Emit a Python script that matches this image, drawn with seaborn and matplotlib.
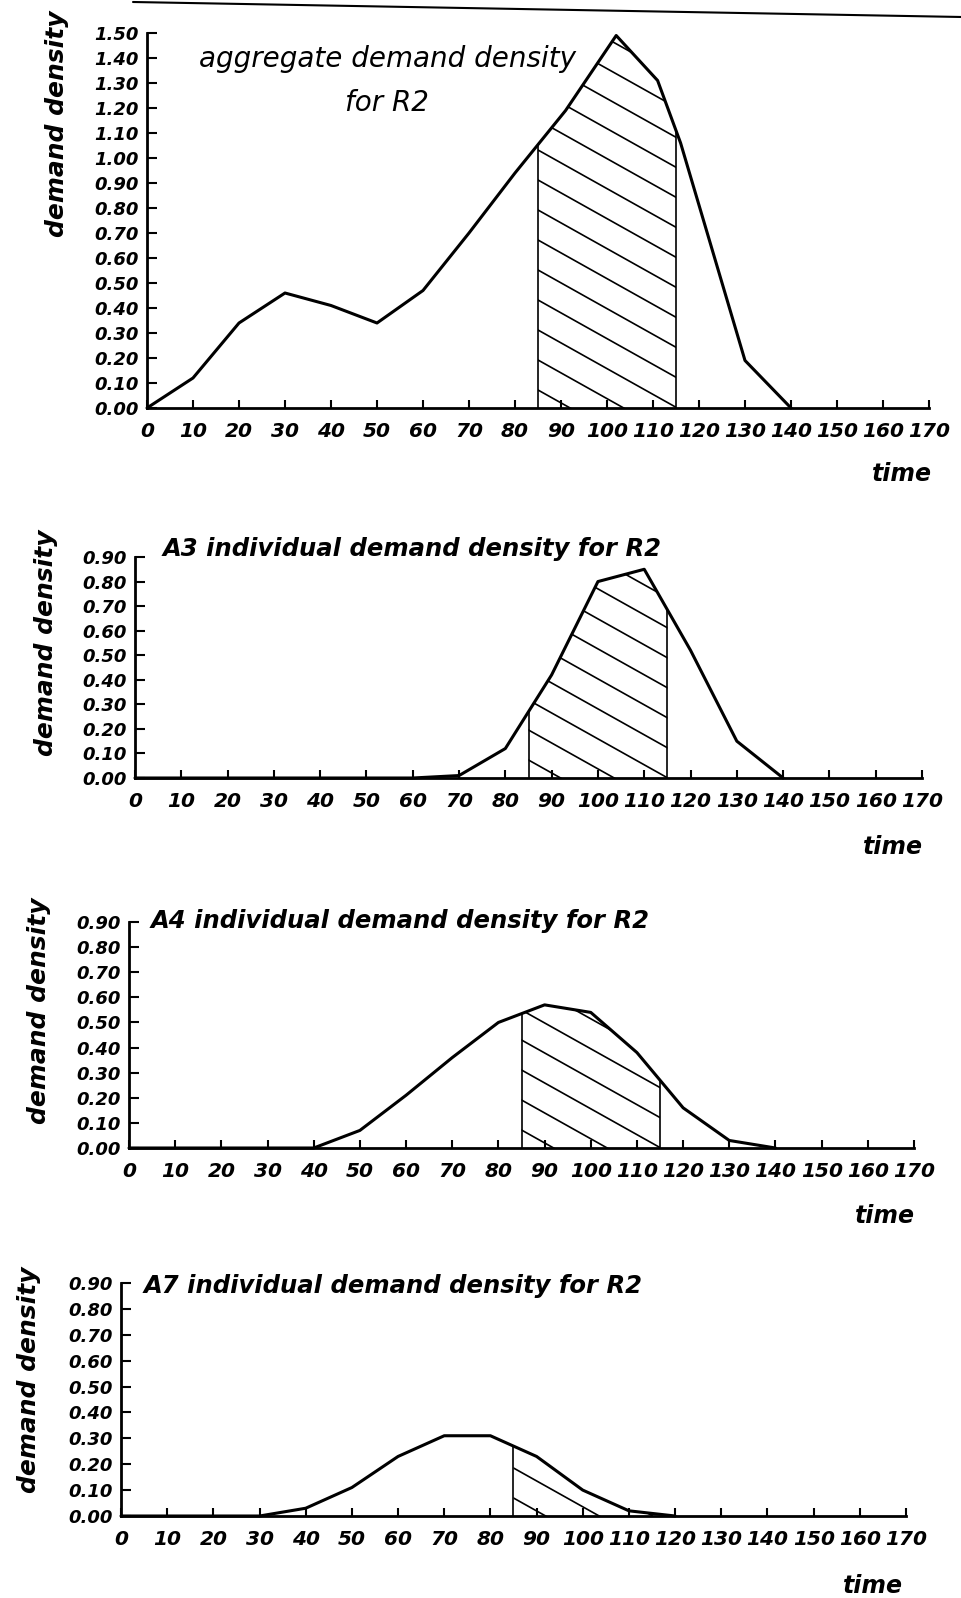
import numpy as np
import matplotlib.pyplot as plt
import seaborn as sns
from matplotlib.lines import Line2D

sns.set_style('ticks')
plt.rcParams['font.family'] = ['DejaVu Sans']
plt.rcParams.update({'text.color': 'black', 'axes.labelcolor': 'black',
                     'xtick.color': 'black', 'ytick.color': 'black',
                     'axes.edgecolor': 'black'})

# data
time_agg = [0, 10, 20, 30, 40, 50, 60, 70, 80, 91, 102, 111, 116, 130, 140]
dens_agg = [0.00, 0.12, 0.34, 0.46, 0.41, 0.34, 0.47, 0.70, 0.94, 1.19, 1.49, 1.31, 1.06, 0.19, 0.00]

time_ind = [0, 10, 20, 30, 40, 50, 60, 70, 80, 90, 100, 110, 120, 130, 140]
dens_a3 = [0, 0, 0, 0, 0, 0, 0, 0.01, 0.12, 0.42, 0.80, 0.85, 0.52, 0.15, 0.00]
dens_a4 = [0, 0, 0, 0, 0, 0.07, 0.21, 0.36, 0.50, 0.57, 0.54, 0.38, 0.16, 0.03, 0.00]

time_a7 = [0, 10, 20, 30, 40, 50, 60, 70, 80, 90, 100, 110, 120]
dens_a7 = [0, 0, 0, 0, 0.03, 0.11, 0.23, 0.31, 0.31, 0.23, 0.10, 0.02, 0.00]

window = (85, 115)   # shaded time window
x_ticks = [0, 10, 20, 30, 40, 50, 60, 70, 80, 90, 100, 110, 120, 130, 140, 150, 160, 170]
y_ticks_agg = [0.0, 0.1, 0.2, 0.3, 0.4, 0.5, 0.6, 0.7, 0.8, 0.9, 1.0, 1.1, 1.2, 1.3, 1.4, 1.5]
y_ticks_ind = [0.0, 0.1, 0.2, 0.3, 0.4, 0.5, 0.6, 0.7, 0.8, 0.9]

FIG_W, FIG_H = 962, 1598
fig = plt.figure(figsize=(FIG_W / 100, FIG_H / 100), dpi=100)


def px_axes(left, right, top, bottom):
    return fig.add_axes([left / FIG_W, 1 - bottom / FIG_H,
                         (right - left) / FIG_W, (bottom - top) / FIG_H])


def add_hatch(ax, t, v, lo, hi, gap_px=30, slope_px=0.56):
    xs = np.linspace(lo, hi, 300)
    ys = np.interp(xs, t, v)
    region = ax.fill_between(xs, 0, ys, facecolor='none', edgecolor='none')
    clip_path = region.get_paths()[0]
    ax.vlines([lo, hi], 0, np.interp([lo, hi], t, v), color='black', lw=1.2)
    bb = ax.get_position()
    w_px, h_px = bb.width * FIG_W, bb.height * FIG_H
    k = slope_px * w_px / h_px
    gap = gap_px / h_px
    x0 = lo / 170
    for n in range(int((1 + k) / gap) + 3):
        y0 = 0.6 * gap + n * gap
        ln = Line2D([x0 - 0.01, 1], [y0 + 0.01 * k, y0 - k * (1 - x0)],
                    transform=ax.transAxes, color='black', lw=1.2)
        ln.set_clip_path(clip_path, ax.transData)
        ax.add_artist(ln)


def style_axes(ax, ymax, yticks):
    ax.set_xlim(0, 170)
    ax.set_ylim(0, ymax)
    sns.despine(ax=ax)
    for s in ['left', 'bottom']:
        ax.spines[s].set_linewidth(2.0)
    ax.set_xticks(x_ticks, labels=[str(x) for x in x_ticks], fontsize=14.5,
                  fontweight='bold', fontstyle='oblique')
    ax.set_yticks(yticks, labels=[f'{y:.2f}' for y in yticks], fontsize=13,
                  fontweight='bold', fontstyle='oblique')
    ax.tick_params(axis='x', direction='in', length=6, width=1.5, pad=10)
    ax.tick_params(axis='y', direction='in', length=7, width=1.5, pad=6)
    ax.set_xlabel('')
    ax.set_ylabel('')


panels = [
    # time, density, ymax, yticks, axes box (px), title, title pos, time label pos, ylabel pos
    (time_agg, dens_agg, 1.5, y_ticks_agg, (147, 929, 33, 408), None, None, (0.965, -0.176), (57, 124)),
    (time_ind, dens_a3, 0.9, y_ticks_ind, (135, 922, 557, 778),
     'A3 individual demand density for R2', (0.035, 1.005), (0.963, -0.312), (46, 643)),
    (time_ind, dens_a4, 0.9, y_ticks_ind, (129, 914, 922, 1148),
     'A4 individual demand density for R2', (0.028, 0.973), (0.963, -0.301), (39, 1011)),
    (time_a7, dens_a7, 0.9, y_ticks_ind, (121, 906, 1283, 1516),
     'A7 individual demand density for R2', (0.029, 0.957), (0.958, -0.300), (29, 1380)),
]

for t, v, ymax, yt, box, title, tpos, time_pos, ylab_pos in panels:
    ax = px_axes(*box)
    style_axes(ax, ymax, yt)
    sns.lineplot(x=t, y=v, ax=ax, color='black', lw=2.2, clip_on=False)
    add_hatch(ax, t, v, *window)
    if title is None:
        ax.text(0.307, 0.872, 'aggregate demand density\nfor R2', transform=ax.transAxes,
                ha='center', va='center', fontsize=20, fontstyle='oblique',
                linespacing=1.7)
    else:
        ax.text(tpos[0], tpos[1], title, transform=ax.transAxes, ha='left',
                va='baseline', fontsize=17.5, fontweight='bold', fontstyle='oblique')
    ax.text(time_pos[0], time_pos[1], 'time', transform=ax.transAxes, ha='center',
            va='center', fontsize=17, fontweight='bold', fontstyle='oblique')
    fig.text(ylab_pos[0] / FIG_W, 1 - ylab_pos[1] / FIG_H, 'demand density',
             rotation=90, ha='center', va='center', fontsize=18,
             fontweight='bold', fontstyle='oblique')

# page border line at the top of the scan
fig.add_artist(Line2D([133 / FIG_W, 1.0], [1 - 2 / FIG_H, 1 - 17 / FIG_H],
                      transform=fig.transFigure, color='black', lw=1.5))

fig.savefig('out.png', dpi=100)
